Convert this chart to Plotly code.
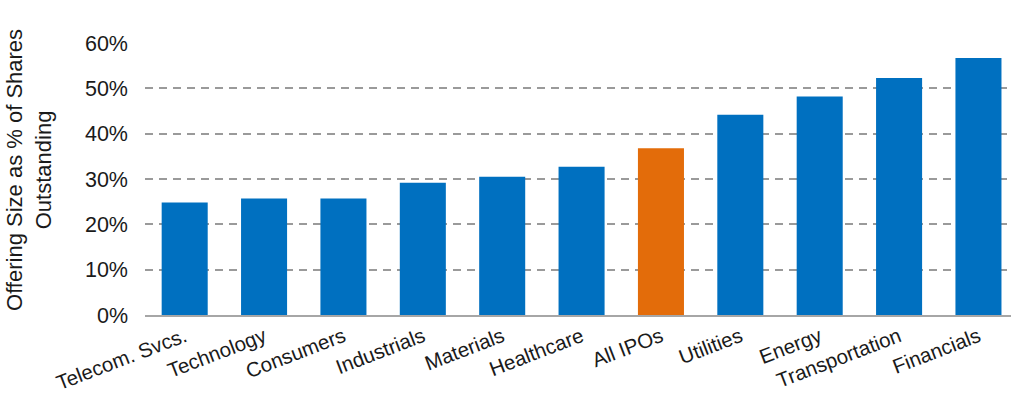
import plotly.graph_objects as go

categories = ["Telecom. Svcs.", "Technology", "Consumers", "Industrials", "Materials",
              "Healthcare", "All IPOs", "Utilities", "Energy", "Transportation", "Financials"]
values = [0.248, 0.257, 0.257, 0.292, 0.305, 0.327, 0.368, 0.442, 0.482, 0.523, 0.567]
highlight = "All IPOs"
tick_vals = [0, 0.1, 0.2, 0.3, 0.4, 0.5, 0.6]
tick_text = ["0%", "10%", "20%", "30%", "40%", "50%", "60%"]

BLUE = "#0070C0"
ORANGE = "#E36C0A"
colors = [ORANGE if c == highlight else BLUE for c in categories]

fig = go.Figure(go.Bar(
    x=categories, y=values, marker=dict(color=colors, line=dict(width=0)),
))

FONT = "Liberation Sans, Arial, sans-serif"
fig.update_layout(
    width=1011, height=395,
    margin=dict(l=145, r=0, t=43, b=80),
    paper_bgcolor="white", plot_bgcolor="white",
    bargap=0.42,
    showlegend=False,
    font=dict(family=FONT, color="#000000"),
)
fig.update_xaxes(
    range=[-0.5, 10.41], tickangle=-21, showgrid=False,
    showline=True, linecolor="#a6a6a6", linewidth=2,
    tickfont=dict(size=20.5, family=FONT, color="#1a1a1a"),
    ticks="",
)
fig.update_yaxes(
    range=[0, 0.6], tickvals=tick_vals, ticktext=tick_text,
    showgrid=True, gridcolor="#9a9a9a", gridwidth=1.5, griddash="8px,6px",
    zeroline=False, showline=False, ticks="",
    tickfont=dict(size=21.5, family=FONT, color="#1a1a1a"),
    ticklabelstandoff=16,
)
fig.add_annotation(
    text="Offering Size as % of Shares<br>Outstanding",
    xref="paper", yref="paper", x=-0.134, y=0.533,
    xanchor="center", yanchor="middle", textangle=-90, showarrow=False,
    font=dict(size=22, family=FONT, color="#1a1a1a"),
)

fig.write_html("out.html")
